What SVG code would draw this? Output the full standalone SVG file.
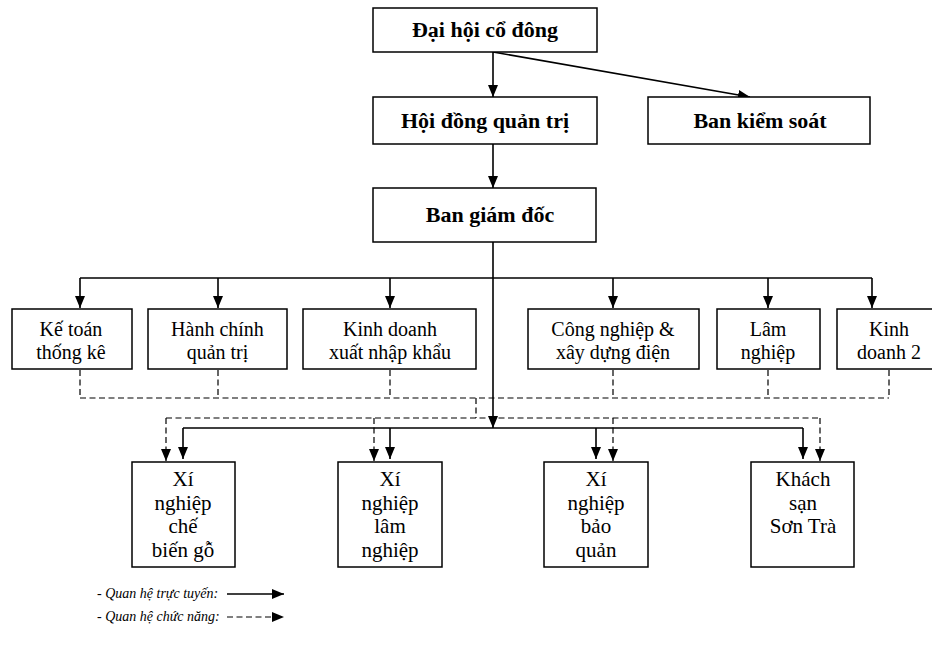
<svg xmlns="http://www.w3.org/2000/svg" width="932" height="654" viewBox="0 0 932 654">
<style>
.box{fill:#fff;stroke:#000;stroke-width:1.5}
.t{font-family:"Liberation Serif","Times New Roman",serif;font-size:21px;fill:#000;text-anchor:middle}
.m{font-size:20px}
.b{font-weight:bold;font-size:22px}
.s{fill:none;stroke:#000;stroke-width:1.6}
.d{fill:none;stroke:#000;stroke-width:1.2;stroke-dasharray:6 3.5}
.lg{font-family:"Liberation Serif","Times New Roman",serif;font-size:14px;font-style:italic;fill:#000}
</style>
<defs>
<marker id="ah" markerUnits="userSpaceOnUse" markerWidth="12" markerHeight="12" viewBox="0 0 12 12" refX="12" refY="6" orient="auto">
<path d="M0,1 L12,6 L0,11 Z" fill="#000"/>
</marker>
</defs>
<rect width="932" height="654" fill="#fff"/>
<g id="connectors">
<line class="s" x1="493" y1="52" x2="493" y2="97" marker-end="url(#ah)"/>
<line class="s" x1="493" y1="52" x2="750" y2="97" marker-end="url(#ah)"/>
<line class="s" x1="493" y1="144" x2="493" y2="188" marker-end="url(#ah)"/>
<line class="s" x1="493" y1="242" x2="493" y2="428" marker-end="url(#ah)"/>
<polyline class="s" points="80,278 872,278"/>
<line class="s" x1="80" y1="278" x2="80" y2="308" marker-end="url(#ah)"/>
<line class="s" x1="218" y1="278" x2="218" y2="308" marker-end="url(#ah)"/>
<line class="s" x1="390" y1="278" x2="390" y2="308" marker-end="url(#ah)"/>
<line class="s" x1="613" y1="278" x2="613" y2="308" marker-end="url(#ah)"/>
<line class="s" x1="768" y1="278" x2="768" y2="308" marker-end="url(#ah)"/>
<line class="s" x1="872" y1="278" x2="872" y2="308" marker-end="url(#ah)"/>
<line class="d" x1="80" y1="370" x2="80" y2="398"/>
<line class="d" x1="218" y1="370" x2="218" y2="398"/>
<line class="d" x1="390" y1="370" x2="390" y2="398"/>
<line class="d" x1="613" y1="370" x2="613" y2="398"/>
<line class="d" x1="768" y1="370" x2="768" y2="398"/>
<line class="d" x1="889" y1="370" x2="889" y2="398"/>
<line class="d" x1="80" y1="398" x2="889" y2="398"/>
<line class="d" x1="476" y1="398" x2="476" y2="418"/>
<line class="d" x1="166" y1="418" x2="820" y2="418"/>
<line class="d" x1="166" y1="418" x2="166" y2="461" marker-end="url(#ah)"/>
<line class="d" x1="374" y1="418" x2="374" y2="461" marker-end="url(#ah)"/>
<line class="d" x1="613" y1="418" x2="613" y2="461" marker-end="url(#ah)"/>
<line class="d" x1="820" y1="418" x2="820" y2="461" marker-end="url(#ah)"/>
<line class="s" x1="183" y1="428" x2="803" y2="428"/>
<line class="s" x1="183" y1="428" x2="183" y2="459" marker-end="url(#ah)"/>
<line class="s" x1="390" y1="428" x2="390" y2="459" marker-end="url(#ah)"/>
<line class="s" x1="596" y1="428" x2="596" y2="459" marker-end="url(#ah)"/>
<line class="s" x1="803" y1="428" x2="803" y2="459" marker-end="url(#ah)"/>
</g>
<g id="n-dhcd"><rect class="box" x="373" y="8" width="224" height="44"/><text class="t b" x="485" y="37">Đại hội cổ đông</text></g>
<g id="n-hdqt"><rect class="box" x="373" y="97" width="224" height="47"/><text class="t b" x="485" y="128">Hội đồng quản trị</text></g>
<g id="n-bks"><rect class="box" x="648" y="97" width="222" height="47"/><text class="t b" x="760" y="128">Ban kiểm soát</text></g>
<g id="n-bgd"><rect class="box" x="373" y="188" width="223" height="54"/><text class="t b" x="490" y="222">Ban giám đốc</text></g>
<g id="n-ketoan"><rect class="box" x="12" y="309" width="120" height="60"/><text class="t m" x="71" y="336">Kế toán</text><text class="t m" x="71" y="359">thống kê</text></g>
<g id="n-hanhchinh"><rect class="box" x="148" y="309" width="139" height="60"/><text class="t m" x="217.5" y="336">Hành chính</text><text class="t m" x="217.5" y="359">quản trị</text></g>
<g id="n-kdxnk"><rect class="box" x="303" y="309" width="173" height="60"/><text class="t m" x="390" y="336">Kinh doanh</text><text class="t m" x="390" y="359">xuất nhập khẩu</text></g>
<g id="n-congnghiep"><rect class="box" x="528" y="309" width="171" height="60"/><text class="t m" x="613" y="336">Công nghiệp &amp;</text><text class="t m" x="613" y="359">xây dựng điện</text></g>
<g id="n-lamnghiep"><rect class="box" x="717" y="309" width="103" height="60"/><text class="t m" x="768" y="336">Lâm</text><text class="t m" x="768" y="359">nghiệp</text></g>
<g id="n-kd2"><rect class="box" x="837" y="309" width="110" height="60"/><text class="t m" x="889" y="336">Kinh</text><text class="t m" x="889" y="359">doanh 2</text></g>
<g id="n-xncbg"><rect class="box" x="132" y="462" width="103" height="105"/><text class="t" x="183" y="486">Xí</text><text class="t" x="183" y="509.5">nghiệp</text><text class="t" x="183" y="533">chế</text><text class="t" x="183" y="556.5">biến gỗ</text></g>
<g id="n-xnln"><rect class="box" x="338" y="462" width="104" height="105"/><text class="t" x="390" y="486">Xí</text><text class="t" x="390" y="509.5">nghiệp</text><text class="t" x="390" y="533">lâm</text><text class="t" x="390" y="556.5">nghiệp</text></g>
<g id="n-xnbq"><rect class="box" x="544" y="462" width="104" height="105"/><text class="t" x="596" y="486">Xí</text><text class="t" x="596" y="509.5">nghiệp</text><text class="t" x="596" y="533">bảo</text><text class="t" x="596" y="556.5">quản</text></g>
<g id="n-ks"><rect class="box" x="751" y="462" width="103" height="105"/><text class="t" x="803" y="486">Khách</text><text class="t" x="803" y="509.5">sạn</text><text class="t" x="803" y="533">Sơn Trà</text></g>
<g id="legend">
<text class="lg" x="97" y="598">- Quan hệ trực tuyến:</text>
<line class="s" x1="227" y1="594" x2="284" y2="594" marker-end="url(#ah)"/>
<text class="lg" x="97" y="621">- Quan hệ chức năng:</text>
<line class="d" x1="227" y1="617" x2="284" y2="617" marker-end="url(#ah)"/>
</g>
</svg>
